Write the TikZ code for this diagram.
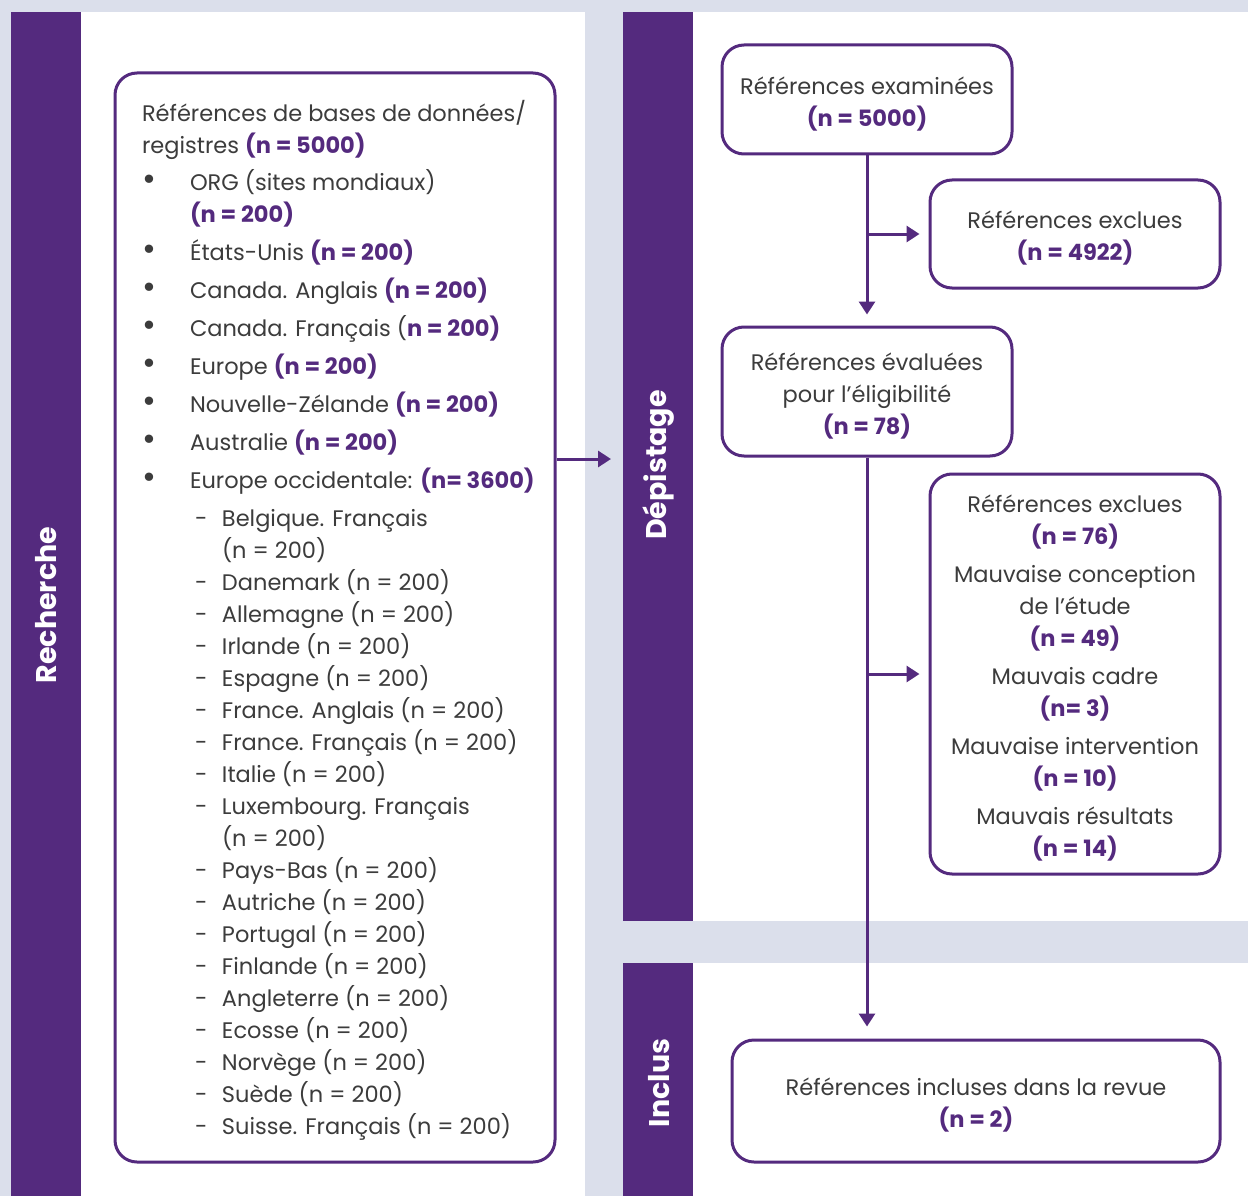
\documentclass[tikz,border=0pt]{standalone}
\usepackage{fontspec}
\setmainfont{Poppins}
\usetikzlibrary{arrows.meta}
\definecolor{prplbar}{HTML}{542A7E}
\definecolor{lavbg}{HTML}{DBDFEB}
\definecolor{txtgrey}{HTML}{3C3C3C}
\newcommand\nval[1]{\textcolor{prplbar}{\bfseries #1}}
\newcommand\bigdot{\raisebox{-0.5pt}{\scalebox{1.5}{\textbullet}}}
\newcommand\bitem[1]{\mbox{\makebox[48pt][l]{\bigdot}#1}}
\newcommand\ditem[1]{\mbox{\hspace{48pt}\makebox[32pt][l]{\hspace{5pt}-}#1}}
\newcommand\bcont[1]{\mbox{\hspace{48pt}#1}}
\newcommand\dcont[1]{\mbox{\hspace{80pt}#1}}
\newcommand\topstrut{\rule{0pt}{26pt}}
\tikzset{
  refbox/.style={draw=prplbar, line width=3pt, rounded corners=22pt, fill=white,
    text=txtgrey, align=center, font=\fontsize{22.5}{32}\selectfont},
  flowarrow/.style={draw=prplbar, line width=3pt, -{Triangle[width=16pt,length=13pt]}},
  phaselabel/.style={rotate=90, text=white, font=\bfseries\fontsize{28.5}{32}\selectfont}
}

\begin{document}
\begin{tikzpicture}[x=1pt,y=-1pt]
		%%%%% START %%%%%
		
		\fill[lavbg] (0,0) rectangle (1248,1196);
		\fill[white] (11,12) rectangle (585,1196);
		\fill[prplbar] (11,12) rectangle (81,1196);
		\fill[white] (623,12) rectangle (1248,921);
		\fill[prplbar] (623,12) rectangle (693,921);
		\fill[white] (623,963) rectangle (1248,1196);
		\fill[prplbar] (623,963) rectangle (693,1196);
		
		\node[phaselabel] (recherche) at (46,605) {Recherche};
		\node[phaselabel] (depistage) at (659,465) {Dépistage};
		\node[phaselabel] (inclus) at (659,1083) {Inclus};
		
		\node[refbox, minimum width=440pt, minimum height=1089pt] (dbrefs) at (335,617.5) {\begin{minipage}{386pt}\raggedright
		\vspace*{5pt}Références de bases de données/\\
		registres \nval{(n = 5000)}\\[5pt]
		\bitem{ORG (sites mondiaux)}\\
		\bcont{\nval{(n = 200)}}\\[6pt]
		\bitem{États-Unis \nval{(n = 200)}}\\[6pt]
		\bitem{Canada. Anglais \nval{(n = 200)}}\\[6pt]
		\bitem{Canada. Français (\nval{n = 200)}}\\[6pt]
		\bitem{Europe \nval{(n = 200)}}\\[6pt]
		\bitem{Nouvelle-Zélande \nval{(n = 200)}}\\[6pt]
		\bitem{Australie \nval{(n = 200)}}\\[6pt]
		\bitem{Europe occidentale: \nval{(n= 3600)}}\\[6pt]
		\ditem{Belgique. Français}\\
		\dcont{(n = 200)}\\
		\ditem{Danemark (n = 200)}\\
		\ditem{Allemagne (n = 200)}\\
		\ditem{Irlande (n = 200)}\\
		\ditem{Espagne (n = 200)}\\
		\ditem{France. Anglais (n = 200)}\\
		\ditem{France. Français (n = 200)}\\
		\ditem{Italie (n = 200)}\\
		\ditem{Luxembourg. Français}\\
		\dcont{(n = 200)}\\
		\ditem{Pays-Bas (n = 200)}\\
		\ditem{Autriche (n = 200)}\\
		\ditem{Portugal (n = 200)}\\
		\ditem{Finlande (n = 200)}\\
		\ditem{Angleterre (n = 200)}\\
		\ditem{Ecosse (n = 200)}\\
		\ditem{Norvège (n = 200)}\\
		\ditem{Suède (n = 200)}\\
		\ditem{Suisse. Français (n = 200)}
		\end{minipage}};
		
		\node[refbox, minimum width=290pt, minimum height=109pt] (screened) at (867,99.5) {\topstrut Références examinées\\\nval{(n = 5000)}};
		\node[refbox, minimum width=290pt, minimum height=108pt] (excluded) at (1075,234) {\topstrut Références exclues\\\nval{(n = 4922)}};
		\node[refbox, minimum width=290pt, minimum height=129pt] (assessed) at (867,391.5) {\topstrut Références évaluées\\pour l’éligibilité\\\nval{(n = 78)}};
		\node[refbox, minimum width=290pt, minimum height=400pt] (fulltextexcl) at (1075,674) {\topstrut Références exclues\\\nval{(n = 76)}\\[6pt]
			Mauvaise conception\\de l’étude\\\nval{(n = 49)}\\[6pt]
			Mauvais cadre\\\nval{(n= 3)}\\[6pt]
			Mauvaise intervention\\\nval{(n = 10)}\\[6pt]
			Mauvais résultats\\\nval{(n = 14)}};
		\node[refbox, minimum width=488pt, minimum height=122pt] (included) at (976,1101) {\topstrut Références incluses dans la revue\\\nval{(n = 2)}};
		
		\coordinate (tophase) at (611,459);
		\draw[flowarrow] (dbrefs.east |- tophase) -- (tophase);
		\draw[flowarrow, shorten >=11pt] (screened) -- (assessed);
		\draw[flowarrow, shorten >=9pt] (screened.south |- excluded) -- (excluded.west);
		\draw[flowarrow, shorten >=12pt] (assessed.south) -- (assessed.south |- included.north);
		\draw[flowarrow, shorten >=9pt] (assessed.south |- fulltextexcl) -- (fulltextexcl.west);
		
		%%%%% END %%%%%
	\end{tikzpicture}
\end{document}
